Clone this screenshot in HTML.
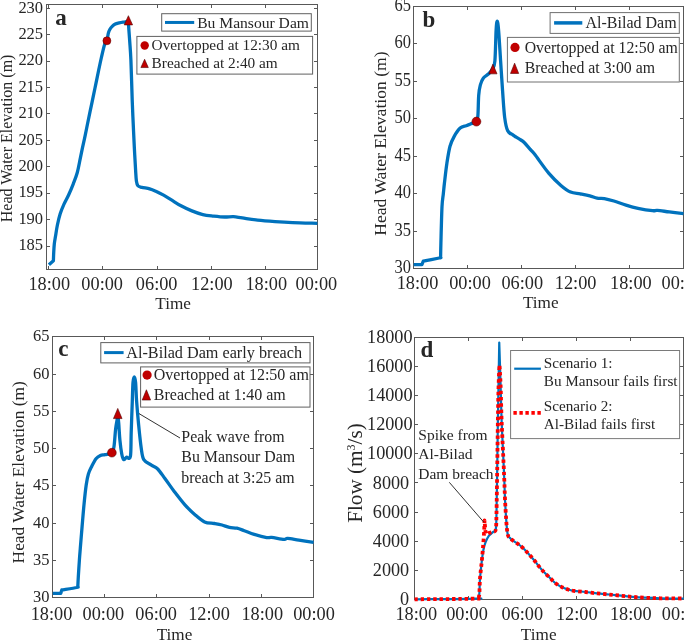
<!DOCTYPE html><html><head><meta charset="utf-8"><style>html,body{margin:0;padding:0;background:#fff;width:685px;height:641px;overflow:hidden}svg{display:block;will-change:transform}text{font-family:"Liberation Serif",serif;fill:#262626}</style></head><body>
<svg width="685" height="641" viewBox="0 0 685 641">
<rect x="46.5" y="4.5" width="271.0" height="265.0" fill="none" stroke="#585858" stroke-width="1"/>
<path d="M48.5,269.5v-3.5M48.5,4.5v3.5M102.5,269.5v-3.5M102.5,4.5v3.5M157.5,269.5v-3.5M157.5,4.5v3.5M211.5,269.5v-3.5M211.5,4.5v3.5M265.5,269.5v-3.5M265.5,4.5v3.5M46.5,246.5h3.5M317.5,246.5h-3.5M46.5,219.5h3.5M317.5,219.5h-3.5M46.5,193.5h3.5M317.5,193.5h-3.5M46.5,166.5h3.5M317.5,166.5h-3.5M46.5,140.5h3.5M317.5,140.5h-3.5M46.5,113.5h3.5M317.5,113.5h-3.5M46.5,87.5h3.5M317.5,87.5h-3.5M46.5,61.5h3.5M317.5,61.5h-3.5M46.5,34.5h3.5M317.5,34.5h-3.5M46.5,8.5h3.5M317.5,8.5h-3.5" stroke="#585858" stroke-width="1" fill="none"/>
<text x="49.3" y="290.1" font-size="18.3" text-anchor="middle" font-weight="normal">18:00</text>
<text x="102.2" y="290.1" font-size="18.3" text-anchor="middle" font-weight="normal">00:00</text>
<text x="156.7" y="290.1" font-size="18.3" text-anchor="middle" font-weight="normal">06:00</text>
<text x="211.9" y="290.1" font-size="18.3" text-anchor="middle" font-weight="normal">12:00</text>
<text x="266.3" y="290.1" font-size="18.3" text-anchor="middle" font-weight="normal">18:00</text>
<text x="316.4" y="290.1" font-size="18.3" text-anchor="middle" font-weight="normal">00:00</text>
<text transform="translate(43.10,250.24) scale(0.97,1.03)" font-size="17.0" text-anchor="end">185</text>
<text transform="translate(43.10,223.82) scale(0.97,1.03)" font-size="17.0" text-anchor="end">190</text>
<text transform="translate(43.10,197.41) scale(0.97,1.03)" font-size="17.0" text-anchor="end">195</text>
<text transform="translate(43.10,170.99) scale(0.97,1.03)" font-size="17.0" text-anchor="end">200</text>
<text transform="translate(43.10,144.58) scale(0.97,1.03)" font-size="17.0" text-anchor="end">205</text>
<text transform="translate(43.10,118.16) scale(0.97,1.03)" font-size="17.0" text-anchor="end">210</text>
<text transform="translate(43.10,91.75) scale(0.97,1.03)" font-size="17.0" text-anchor="end">215</text>
<text transform="translate(43.10,65.33) scale(0.97,1.03)" font-size="17.0" text-anchor="end">220</text>
<text transform="translate(43.10,38.92) scale(0.97,1.03)" font-size="17.0" text-anchor="end">225</text>
<text transform="translate(43.10,12.50) scale(0.97,1.03)" font-size="17.0" text-anchor="end">230</text>
<text x="173.1" y="308.8" font-size="17.2" text-anchor="middle" font-weight="normal">Time</text>
<text transform="translate(12.1,138.4) rotate(-90)" font-size="16" text-anchor="middle">Head Water Elevation (m)</text>
<text x="55.2" y="25" font-size="23" text-anchor="start" font-weight="bold">a</text>
<path d="M48.90,264.70C49.65,264.05 52.65,261.45 53.40,260.80C53.45,259.50 53.55,255.80 53.70,253.00C53.85,250.20 54.00,246.78 54.30,244.00C54.60,241.22 54.98,239.47 55.50,236.30C56.02,233.13 56.62,228.75 57.40,225.00C58.18,221.25 59.12,217.23 60.20,213.80C61.28,210.37 62.50,207.53 63.90,204.40C65.30,201.27 67.03,198.43 68.60,195.00C70.17,191.57 71.85,187.55 73.30,183.80C74.75,180.05 76.12,176.83 77.30,172.50C78.48,168.17 79.47,162.25 80.40,157.80C81.33,153.35 82.08,149.62 82.90,145.80C83.72,141.98 84.53,138.53 85.30,134.90C86.07,131.27 86.68,128.00 87.50,124.00C88.32,120.00 89.25,115.45 90.20,110.90C91.15,106.35 92.25,101.25 93.20,96.70C94.15,92.15 95.00,87.97 95.90,83.60C96.80,79.23 97.68,74.85 98.60,70.50C99.52,66.15 100.40,61.85 101.40,57.50C102.40,53.15 103.68,47.18 104.60,44.40C105.52,41.62 106.28,42.63 106.90,40.80C107.52,38.97 107.82,35.28 108.30,33.40C108.78,31.52 109.15,30.67 109.80,29.50C110.45,28.33 111.28,27.32 112.20,26.40C113.12,25.48 114.13,24.58 115.30,24.00C116.47,23.42 117.90,23.22 119.20,22.90C120.50,22.58 121.93,22.30 123.10,22.10C124.27,21.90 125.35,21.80 126.20,21.70C127.05,21.60 127.87,21.53 128.20,21.50C128.27,22.25 128.35,22.72 128.60,26.00C128.85,29.28 129.32,35.53 129.70,41.20C130.08,46.87 130.48,50.20 130.90,60.00C131.32,69.80 131.82,89.43 132.20,100.00C132.58,110.57 132.85,115.60 133.20,123.40C133.55,131.20 133.90,139.02 134.30,146.80C134.70,154.58 135.25,164.40 135.60,170.10C135.95,175.80 136.02,178.40 136.40,181.00C136.78,183.60 137.00,184.65 137.90,185.70C138.80,186.75 139.85,186.78 141.80,187.30C143.75,187.82 147.27,188.15 149.60,188.80C151.93,189.45 153.47,190.15 155.80,191.20C158.13,192.25 161.00,193.65 163.60,195.10C166.20,196.55 168.50,198.12 171.40,199.90C174.30,201.68 177.58,203.97 181.00,205.80C184.42,207.63 188.27,209.43 191.90,210.90C195.53,212.37 199.15,213.73 202.80,214.60C206.45,215.47 210.15,215.70 213.80,216.10C217.45,216.50 221.42,216.92 224.70,217.00C227.98,217.08 230.57,216.45 233.50,216.60C236.43,216.75 238.28,217.32 242.30,217.90C246.32,218.48 252.13,219.48 257.60,220.10C263.07,220.72 269.27,221.18 275.10,221.60C280.93,222.02 285.55,222.32 292.60,222.60C299.65,222.88 313.27,223.18 317.40,223.30" fill="none" stroke="#0072BD" stroke-width="3.3" stroke-linejoin="round" />
<circle cx="106.9" cy="40.8" r="4.0" fill="#C00000" stroke="#500000" stroke-width="0.5"/>
<path d="M128.4,15.700000000000001L132.6,24.9L124.2,24.9Z" fill="#C00000" stroke="#500000" stroke-width="0.6" stroke-linejoin="miter"/>
<rect x="161.7" y="13.7" width="149.6" height="17.4" fill="#fff" stroke="#606060" stroke-width="1"/>
<path d="M165,22.45H194.2" stroke="#0072BD" stroke-width="3" />
<text x="197.2" y="27.8" font-size="15.6" text-anchor="start" font-weight="normal">Bu Mansour Dam</text>
<rect x="136.9" y="36.4" width="175.7" height="37.7" fill="#fff" stroke="#606060" stroke-width="1"/>
<circle cx="144.7" cy="45.5" r="4.2" fill="#C00000" />
<path d="M144.6,59.25L148.29999999999998,67.55L140.9,67.55Z" fill="#C00000" stroke="#500000" stroke-width="0.6" stroke-linejoin="miter"/>
<text x="151.6" y="49.7" font-size="15.3" text-anchor="start" font-weight="normal">Overtopped at 12:30 am</text>
<text x="151.6" y="68.4" font-size="15.3" text-anchor="start" font-weight="normal">Breached at 2:40 am</text>
<rect x="413.5" y="6.5" width="270.0" height="262.0" fill="none" stroke="#585858" stroke-width="1"/>
<path d="M467.5,268.5v-3.5M467.5,6.5v3.5M521.5,268.5v-3.5M521.5,6.5v3.5M575.5,268.5v-3.5M575.5,6.5v3.5M629.5,268.5v-3.5M629.5,6.5v3.5M413.5,231.5h3.5M683.5,231.5h-3.5M413.5,193.5h3.5M683.5,193.5h-3.5M413.5,156.5h3.5M683.5,156.5h-3.5M413.5,118.5h3.5M683.5,118.5h-3.5M413.5,81.5h3.5M683.5,81.5h-3.5M413.5,43.5h3.5M683.5,43.5h-3.5" stroke="#585858" stroke-width="1" fill="none"/>
<text x="417.5" y="288.9" font-size="18.3" text-anchor="middle" font-weight="normal">18:00</text>
<text x="470" y="288.9" font-size="18.3" text-anchor="middle" font-weight="normal">00:00</text>
<text x="522.3" y="288.9" font-size="18.3" text-anchor="middle" font-weight="normal">06:00</text>
<text x="575.6" y="288.9" font-size="18.3" text-anchor="middle" font-weight="normal">12:00</text>
<text x="630.9" y="288.9" font-size="18.3" text-anchor="middle" font-weight="normal">18:00</text>
<text x="682.4" y="288.9" font-size="18.3" text-anchor="middle" font-weight="normal">00:00</text>
<text transform="translate(411.00,273.10) scale(0.97,1.1)" font-size="17.0" text-anchor="end">30</text>
<text transform="translate(411.00,235.61) scale(0.97,1.1)" font-size="17.0" text-anchor="end">35</text>
<text transform="translate(411.00,198.13) scale(0.97,1.1)" font-size="17.0" text-anchor="end">40</text>
<text transform="translate(411.00,160.65) scale(0.97,1.1)" font-size="17.0" text-anchor="end">45</text>
<text transform="translate(411.00,123.16) scale(0.97,1.1)" font-size="17.0" text-anchor="end">50</text>
<text transform="translate(411.00,85.67) scale(0.97,1.1)" font-size="17.0" text-anchor="end">55</text>
<text transform="translate(411.00,48.19) scale(0.97,1.1)" font-size="17.0" text-anchor="end">60</text>
<text transform="translate(411.00,10.71) scale(0.97,1.1)" font-size="17.0" text-anchor="end">65</text>
<text x="540.8" y="308.2" font-size="17.2" text-anchor="middle" font-weight="normal">Time</text>
<text transform="translate(386.1,143.6) rotate(-90)" font-size="17.6" text-anchor="middle">Head Water Elevation (m)</text>
<text x="422.5" y="27.4" font-size="23" text-anchor="start" font-weight="bold">b</text>
<path d="M413.70,264.60C415.07,264.60 420.53,264.60 421.90,264.60C422.13,264.02 423.07,261.68 423.30,261.10C425.95,260.58 436.32,258.58 439.20,258.00C442.08,257.42 440.37,257.67 440.60,257.60C440.65,255.17 440.67,251.48 440.90,243.00C441.13,234.52 441.60,214.87 442.00,206.70C442.40,198.53 442.88,198.03 443.30,194.00C443.72,189.97 443.90,187.63 444.50,182.50C445.10,177.37 445.98,169.23 446.90,163.20C447.82,157.17 448.80,150.73 450.00,146.30C451.20,141.87 452.40,139.63 454.10,136.60C455.80,133.57 458.18,129.92 460.20,128.10C462.22,126.28 464.48,126.38 466.20,125.70C467.92,125.02 468.80,124.68 470.50,124.00C472.20,123.32 475.17,123.00 476.40,121.60C477.63,120.20 477.52,119.98 477.90,115.60C478.28,111.22 478.30,100.38 478.70,95.30C479.10,90.22 479.52,87.98 480.30,85.10C481.08,82.22 482.05,79.85 483.40,78.00C484.75,76.15 486.88,75.50 488.40,74.00C489.92,72.50 491.42,71.20 492.50,69.00C493.58,66.80 494.30,67.25 494.90,60.80C495.50,54.35 495.72,36.90 496.10,30.30C496.48,23.70 496.78,21.20 497.20,21.20C497.62,21.20 498.03,23.70 498.60,30.30C499.17,36.90 499.93,50.65 500.60,60.80C501.27,70.95 501.92,81.73 502.60,91.20C503.28,100.67 503.85,111.00 504.70,117.60C505.55,124.20 506.35,127.92 507.70,130.80C509.05,133.68 511.38,133.83 512.80,134.90C514.22,135.97 514.85,136.35 516.20,137.20C517.55,138.05 519.57,139.12 520.90,140.00C522.23,140.88 522.68,140.98 524.20,142.50C525.72,144.02 528.28,147.17 530.00,149.10C531.72,151.03 531.35,150.05 534.50,154.10C537.65,158.15 544.50,168.18 548.90,173.40C553.30,178.62 557.28,182.28 560.90,185.40C564.52,188.52 567.38,190.70 570.60,192.10C573.82,193.50 577.00,193.18 580.20,193.80C583.40,194.42 586.98,195.07 589.80,195.80C592.62,196.53 594.68,197.73 597.10,198.20C599.52,198.67 601.50,198.13 604.30,198.60C607.10,199.07 610.28,199.92 613.90,201.00C617.52,202.08 621.98,203.88 626.00,205.10C630.02,206.32 633.58,207.37 638.00,208.30C642.42,209.23 649.28,210.35 652.50,210.70C655.72,211.05 654.50,210.20 657.30,210.40C660.10,210.60 664.93,211.37 669.30,211.90C673.67,212.43 681.13,213.32 683.50,213.60" fill="none" stroke="#0072BD" stroke-width="3.3" stroke-linejoin="round" />
<circle cx="476.4" cy="121.6" r="4.5" fill="#C00000" stroke="#500000" stroke-width="0.5"/>
<path d="M492.9,64.15L497.0,73.85L488.79999999999995,73.85Z" fill="#C00000" stroke="#500000" stroke-width="0.6" stroke-linejoin="miter"/>
<rect x="550.1" y="12.6" width="129.2" height="20.8" fill="#fff" stroke="#707070" stroke-width="1"/>
<path d="M554.1,22.9H582.3" stroke="#0072BD" stroke-width="3.5" />
<text x="585.5" y="28.3" font-size="16" text-anchor="start" font-weight="normal">Al-Bilad Dam</text>
<rect x="507.4" y="37.4" width="171.9" height="44.6" fill="#fff" stroke="#707070" stroke-width="1"/>
<circle cx="515" cy="47.4" r="4.6" fill="#C00000" />
<path d="M514.6,63.15L518.7,73.45L510.5,73.45Z" fill="#C00000" stroke="#500000" stroke-width="0.6" stroke-linejoin="miter"/>
<text x="524.7" y="52.8" font-size="15.8" text-anchor="start" font-weight="normal">Overtopped at 12:50 am</text>
<text x="524.7" y="73.4" font-size="15.8" text-anchor="start" font-weight="normal">Breached at 3:00 am</text>
<rect x="52.5" y="336.5" width="261.0" height="261.0" fill="none" stroke="#585858" stroke-width="1"/>
<path d="M104.5,597.5v-3.5M104.5,336.5v3.5M156.5,597.5v-3.5M156.5,336.5v3.5M209.5,597.5v-3.5M209.5,336.5v3.5M261.5,597.5v-3.5M261.5,336.5v3.5M52.5,560.5h3.5M313.5,560.5h-3.5M52.5,523.5h3.5M313.5,523.5h-3.5M52.5,485.5h3.5M313.5,485.5h-3.5M52.5,448.5h3.5M313.5,448.5h-3.5M52.5,411.5h3.5M313.5,411.5h-3.5M52.5,374.5h3.5M313.5,374.5h-3.5" stroke="#585858" stroke-width="1" fill="none"/>
<text x="51.5" y="620.2" font-size="18.3" text-anchor="middle" font-weight="normal">18:00</text>
<text x="103.4" y="620.2" font-size="18.3" text-anchor="middle" font-weight="normal">00:00</text>
<text x="156.2" y="620.2" font-size="18.3" text-anchor="middle" font-weight="normal">06:00</text>
<text x="209" y="620.2" font-size="18.3" text-anchor="middle" font-weight="normal">12:00</text>
<text x="262.3" y="620.2" font-size="18.3" text-anchor="middle" font-weight="normal">18:00</text>
<text x="314" y="620.2" font-size="18.3" text-anchor="middle" font-weight="normal">00:00</text>
<text transform="translate(49.40,602.10) scale(0.97,1.03)" font-size="17.0" text-anchor="end">30</text>
<text transform="translate(49.40,564.87) scale(0.97,1.03)" font-size="17.0" text-anchor="end">35</text>
<text transform="translate(49.40,527.64) scale(0.97,1.03)" font-size="17.0" text-anchor="end">40</text>
<text transform="translate(49.40,490.41) scale(0.97,1.03)" font-size="17.0" text-anchor="end">45</text>
<text transform="translate(49.40,453.18) scale(0.97,1.03)" font-size="17.0" text-anchor="end">50</text>
<text transform="translate(49.40,415.95) scale(0.97,1.03)" font-size="17.0" text-anchor="end">55</text>
<text transform="translate(49.40,378.72) scale(0.97,1.03)" font-size="17.0" text-anchor="end">60</text>
<text transform="translate(49.40,341.49) scale(0.97,1.03)" font-size="17.0" text-anchor="end">65</text>
<text x="174.5" y="640" font-size="17.2" text-anchor="middle" font-weight="normal">Time</text>
<text transform="translate(24.3,472.3) rotate(-90)" font-size="17.4" text-anchor="middle">Head Water Elevation (m)</text>
<text x="58.2" y="355.6" font-size="23" text-anchor="start" font-weight="bold">c</text>
<path d="M52.80,593.40C54.12,593.40 59.38,593.40 60.70,593.40C60.88,592.83 61.62,590.57 61.80,590.00C64.28,589.58 74.03,588.00 76.70,587.50C79.37,587.00 77.62,587.08 77.80,587.00C77.88,585.33 78.03,581.50 78.30,577.00C78.57,572.50 79.07,564.77 79.40,560.00C79.73,555.23 79.85,553.98 80.30,548.40C80.75,542.82 81.48,533.80 82.10,526.50C82.72,519.20 83.32,511.52 84.00,504.60C84.68,497.68 85.47,490.10 86.20,485.00C86.93,479.90 87.48,477.10 88.40,474.00C89.32,470.90 90.43,468.95 91.70,466.40C92.97,463.85 94.55,460.52 96.00,458.70C97.45,456.88 98.90,456.18 100.40,455.50C101.90,454.82 103.08,455.07 105.00,454.60C106.92,454.13 110.40,454.07 111.90,452.70C113.40,451.33 113.38,450.32 114.00,446.40C114.62,442.48 115.08,433.62 115.60,429.20C116.12,424.78 116.72,421.93 117.10,419.90C117.48,417.87 117.63,416.48 117.90,417.00C118.17,417.52 118.37,419.15 118.70,423.00C119.03,426.85 119.38,434.90 119.90,440.10C120.42,445.30 121.17,450.95 121.80,454.20C122.43,457.45 122.92,459.08 123.70,459.60C124.48,460.12 125.38,457.82 126.50,457.30C127.62,456.78 129.62,460.67 130.40,456.50C131.18,452.33 130.88,441.52 131.20,432.30C131.52,423.08 132.00,409.50 132.30,401.20C132.60,392.90 132.67,386.53 133.00,382.50C133.33,378.47 133.87,377.00 134.30,377.00C134.73,377.00 135.22,378.50 135.60,382.50C135.98,386.50 136.10,394.00 136.60,401.00C137.10,408.00 137.83,416.67 138.60,424.50C139.37,432.33 140.33,442.15 141.20,448.00C142.07,453.85 142.10,456.75 143.80,459.60C145.50,462.45 149.08,463.53 151.40,465.10C153.72,466.67 155.45,466.77 157.70,469.00C159.95,471.23 162.05,474.63 164.90,478.50C167.75,482.37 171.50,487.85 174.80,492.20C178.10,496.55 181.38,500.88 184.70,504.60C188.02,508.32 191.38,511.60 194.70,514.50C198.02,517.40 201.30,520.50 204.60,522.00C207.90,523.50 211.60,523.00 214.50,523.50C217.40,524.00 219.52,524.35 222.00,525.00C224.48,525.65 226.92,526.87 229.40,527.40C231.88,527.93 234.42,527.65 236.90,528.20C239.38,528.75 241.42,529.67 244.30,530.70C247.18,531.73 250.47,533.25 254.20,534.40C257.93,535.55 263.80,537.10 266.70,537.60C269.60,538.10 268.72,537.10 271.60,537.40C274.48,537.70 281.32,539.23 284.00,539.40C286.68,539.57 285.22,538.28 287.70,538.40C290.18,538.52 294.58,539.45 298.90,540.10C303.22,540.75 311.15,541.93 313.60,542.30" fill="none" stroke="#0072BD" stroke-width="3.3" stroke-linejoin="round" />
<circle cx="111.9" cy="452.7" r="4.4" fill="#C00000" stroke="#500000" stroke-width="0.5"/>
<path d="M117.75,408.4L122.05,418.6L113.45,418.6Z" fill="#C00000" stroke="#500000" stroke-width="0.6" stroke-linejoin="miter"/>
<path d="M139,413.6L180,438" stroke="#1a1a1a" stroke-width="0.9"/>
<text x="181.3" y="441.8" font-size="15.9" text-anchor="start" font-weight="normal">Peak wave from</text>
<text x="181.3" y="462.2" font-size="15.9" text-anchor="start" font-weight="normal">Bu Mansour Dam</text>
<text x="181.3" y="482.6" font-size="15.9" text-anchor="start" font-weight="normal">breach at 3:25 am</text>
<rect x="100.8" y="342.6" width="209.2" height="20.3" fill="#fff" stroke="#606060" stroke-width="1"/>
<path d="M104.1,352.6H123.6" stroke="#0072BD" stroke-width="3" />
<text x="126.3" y="357.6" font-size="16.2" text-anchor="start" font-weight="normal">Al-Bilad Dam early breach</text>
<rect x="140.6" y="366.9" width="169.4" height="40.2" fill="#fff" stroke="#606060" stroke-width="1"/>
<circle cx="147.1" cy="375.1" r="4.6" fill="#C00000" />
<path d="M146.4,389.75L150.6,400.04999999999995L142.20000000000002,400.04999999999995Z" fill="#C00000" stroke="#500000" stroke-width="0.6" stroke-linejoin="miter"/>
<text x="153.8" y="379.9" font-size="16" text-anchor="start" font-weight="normal">Overtopped at 12:50 am</text>
<text x="153.8" y="399.8" font-size="16" text-anchor="start" font-weight="normal">Breached at 1:40 am</text>
<rect x="414.5" y="337.5" width="269.0" height="262.0" fill="none" stroke="#585858" stroke-width="1"/>
<path d="M468.5,599.5v-3.5M468.5,337.5v3.5M522.5,599.5v-3.5M522.5,337.5v3.5M576.5,599.5v-3.5M576.5,337.5v3.5M630.5,599.5v-3.5M630.5,337.5v3.5M414.5,570.5h3.5M683.5,570.5h-3.5M414.5,541.5h3.5M683.5,541.5h-3.5M414.5,512.5h3.5M683.5,512.5h-3.5M414.5,482.5h3.5M683.5,482.5h-3.5M414.5,453.5h3.5M683.5,453.5h-3.5M414.5,424.5h3.5M683.5,424.5h-3.5M414.5,395.5h3.5M683.5,395.5h-3.5M414.5,366.5h3.5M683.5,366.5h-3.5" stroke="#585858" stroke-width="1" fill="none"/>
<text x="416.3" y="620.1" font-size="18.3" text-anchor="middle" font-weight="normal">18:00</text>
<text x="467" y="620.1" font-size="18.3" text-anchor="middle" font-weight="normal">00:00</text>
<text x="522.3" y="620.1" font-size="18.3" text-anchor="middle" font-weight="normal">06:00</text>
<text x="576.8" y="620.1" font-size="18.3" text-anchor="middle" font-weight="normal">12:00</text>
<text x="630.8" y="620.1" font-size="18.3" text-anchor="middle" font-weight="normal">18:00</text>
<text x="682.7" y="620.1" font-size="18.3" text-anchor="middle" font-weight="normal">00:00</text>
<text x="409.2" y="604.9" font-size="18.2" text-anchor="end" font-weight="normal">0</text>
<text x="409.2" y="575.8" font-size="18.2" text-anchor="end" font-weight="normal">2000</text>
<text x="409.2" y="546.6999999999999" font-size="18.2" text-anchor="end" font-weight="normal">4000</text>
<text x="409.2" y="517.6" font-size="18.2" text-anchor="end" font-weight="normal">6000</text>
<text x="409.2" y="488.5" font-size="18.2" text-anchor="end" font-weight="normal">8000</text>
<text x="412.5" y="459.4" font-size="18.2" text-anchor="end" font-weight="normal">10000</text>
<text x="412.5" y="430.29999999999995" font-size="18.2" text-anchor="end" font-weight="normal">12000</text>
<text x="412.5" y="401.2" font-size="18.2" text-anchor="end" font-weight="normal">14000</text>
<text x="412.5" y="372.1" font-size="18.2" text-anchor="end" font-weight="normal">16000</text>
<text x="412.5" y="343.0" font-size="18.2" text-anchor="end" font-weight="normal">18000</text>
<text x="538.7" y="640" font-size="17.2" text-anchor="middle" font-weight="normal">Time</text>
<text transform="translate(362.3,473) rotate(-90)" font-size="21.2" text-anchor="middle">Flow (m<tspan font-size="12" dy="-7">3</tspan><tspan dy="7">/s)</tspan></text>
<text x="420.5" y="356.5" font-size="23" text-anchor="start" font-weight="bold">d</text>
<path d="M414.60,599.30C424.78,599.18 464.97,599.07 475.70,598.60C486.43,598.13 478.28,599.85 479.00,596.50C479.72,593.15 479.53,584.42 480.00,578.50C480.47,572.58 481.23,565.75 481.80,561.00C482.37,556.25 482.78,553.10 483.40,550.00C484.02,546.90 484.60,544.77 485.50,542.40C486.40,540.03 487.52,537.55 488.80,535.80C490.08,534.05 492.03,532.98 493.20,531.90C494.37,530.82 495.25,532.48 495.80,529.30C496.35,526.12 496.27,522.68 496.50,512.80C496.73,502.92 496.97,485.47 497.20,470.00C497.43,454.53 497.68,434.17 497.90,420.00C498.12,405.83 498.27,397.92 498.50,385.00C498.73,372.08 499.12,349.58 499.25,342.50C499.48,349.58 500.21,372.08 500.60,385.00C500.99,397.92 501.17,408.33 501.60,420.00C502.03,431.67 502.75,445.00 503.20,455.00C503.65,465.00 503.95,471.67 504.30,480.00C504.65,488.33 504.78,496.23 505.30,505.00C505.82,513.77 506.50,526.98 507.40,532.60C508.30,538.22 509.05,536.88 510.70,538.70C512.35,540.52 515.47,542.15 517.30,543.50C519.13,544.85 519.88,545.15 521.70,546.80C523.52,548.45 526.02,551.03 528.20,553.40C530.38,555.77 532.60,558.35 534.80,561.00C537.00,563.65 538.85,566.45 541.40,569.30C543.95,572.15 547.68,575.73 550.10,578.10C552.52,580.47 553.95,582.00 555.90,583.50C557.85,585.00 559.83,586.12 561.80,587.10C563.77,588.08 565.72,588.78 567.70,589.40C569.68,590.02 570.73,590.37 573.70,590.80C576.67,591.23 581.57,591.57 585.50,592.00C589.43,592.43 593.37,592.98 597.30,593.40C601.23,593.82 605.15,594.12 609.10,594.50C613.05,594.88 617.05,595.30 621.00,595.70C624.95,596.10 628.87,596.57 632.80,596.90C636.73,597.23 640.00,597.47 644.60,597.70C649.20,597.93 653.87,598.17 660.40,598.30C666.93,598.43 679.90,598.47 683.80,598.50" fill="none" stroke="#0072BD" stroke-width="2.2" stroke-linejoin="round" />
<path d="M414.60,599.30C424.78,599.18 464.97,599.07 475.70,598.60C486.43,598.13 478.28,599.85 479.00,596.50C479.72,593.15 479.53,584.42 480.00,578.50C480.47,572.58 481.27,566.58 481.80,561.00C482.33,555.42 482.80,550.17 483.20,545.00C483.60,539.83 483.98,534.08 484.20,530.00C484.42,525.92 484.45,522.08 484.50,520.50C484.62,521.75 484.95,525.75 485.20,528.00C485.45,530.25 485.40,533.17 486.00,534.00C486.60,534.83 487.60,533.35 488.80,533.00C490.00,532.65 492.03,532.52 493.20,531.90C494.37,531.28 495.25,532.48 495.80,529.30C496.35,526.12 496.27,522.68 496.50,512.80C496.73,502.92 496.97,485.47 497.20,470.00C497.43,454.53 497.67,434.17 497.90,420.00C498.13,405.83 498.33,394.17 498.60,385.00C498.87,375.83 499.35,368.33 499.50,365.00C499.68,368.33 500.25,375.83 500.60,385.00C500.95,394.17 501.17,408.33 501.60,420.00C502.03,431.67 502.75,445.00 503.20,455.00C503.65,465.00 503.95,471.67 504.30,480.00C504.65,488.33 504.78,496.23 505.30,505.00C505.82,513.77 506.50,526.98 507.40,532.60C508.30,538.22 509.05,536.88 510.70,538.70C512.35,540.52 515.47,542.15 517.30,543.50C519.13,544.85 519.88,545.15 521.70,546.80C523.52,548.45 526.02,551.03 528.20,553.40C530.38,555.77 532.60,558.35 534.80,561.00C537.00,563.65 538.85,566.45 541.40,569.30C543.95,572.15 547.68,575.73 550.10,578.10C552.52,580.47 553.95,582.00 555.90,583.50C557.85,585.00 559.83,586.12 561.80,587.10C563.77,588.08 565.72,588.78 567.70,589.40C569.68,590.02 570.73,590.37 573.70,590.80C576.67,591.23 581.57,591.57 585.50,592.00C589.43,592.43 593.37,592.98 597.30,593.40C601.23,593.82 605.15,594.12 609.10,594.50C613.05,594.88 617.05,595.30 621.00,595.70C624.95,596.10 628.87,596.57 632.80,596.90C636.73,597.23 640.00,597.47 644.60,597.70C649.20,597.93 653.87,598.17 660.40,598.30C666.93,598.43 679.90,598.47 683.80,598.50" fill="none" stroke="#FF0000" stroke-width="3.8" stroke-linejoin="round" stroke-dasharray="3.4,2.84" stroke-linecap="butt"/>
<path d="M449.3,482.3L483.9,522.3" stroke="#1a1a1a" stroke-width="0.9"/>
<text x="418.3" y="439.7" font-size="15.5" text-anchor="start" font-weight="normal">Spike from</text>
<text x="418.3" y="459.3" font-size="15.5" text-anchor="start" font-weight="normal">Al-Bilad</text>
<text x="418.3" y="479" font-size="15.5" text-anchor="start" font-weight="normal">Dam breach</text>
<rect x="510.6" y="350.5" width="169.0" height="88.1" fill="#fff" stroke="#7a7a7a" stroke-width="1"/>
<path d="M514.2,368.7H540.9" stroke="#0072BD" stroke-width="2.2" />
<path d="M513.4,412.9H541" stroke="#FF0000" stroke-width="3.8" stroke-dasharray="3.4,2.6"/>
<text x="543.8" y="368" font-size="15.2" text-anchor="start" font-weight="normal">Scenario 1:</text>
<text x="543.8" y="386.2" font-size="15.2" text-anchor="start" font-weight="normal">Bu Mansour fails first</text>
<text x="543.8" y="410.6" font-size="15.2" text-anchor="start" font-weight="normal">Scenario 2:</text>
<text x="543.8" y="429.4" font-size="15.2" text-anchor="start" font-weight="normal">Al-Bilad fails first</text>
</svg></body></html>
